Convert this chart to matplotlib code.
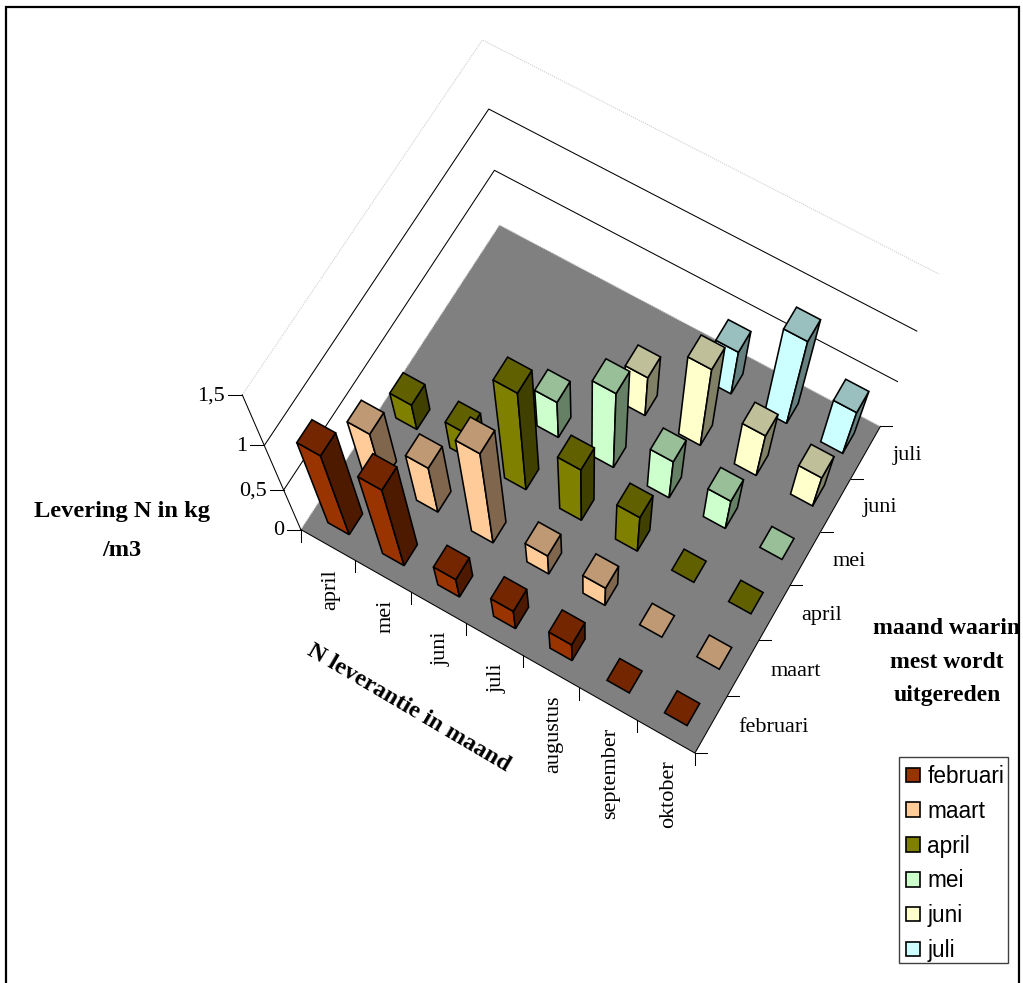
import numpy as np
import matplotlib
matplotlib.use("Agg")
import matplotlib.pyplot as plt
from matplotlib.patches import Polygon, Patch, Rectangle
from matplotlib.colors import to_rgb

# Nitrogen delivery (kg/m3) per delivery month and per month of manure spreading
delivery_months = ["april", "mei", "juni", "juli", "augustus", "september", "oktober"]
spread_months = ["februari", "maart", "april", "mei", "juni", "juli"]
z_ticks = [0, 0.5, 1, 1.5]
z_labels = ["0", "0,5", "1", "1,5"]

februari = [0.95, 0.95, 0.25, 0.26, 0.25, 0, 0]
maart = [0.56, 0.54, 1.07, 0.25, 0.25, 0, 0]
april = [0.28, 0.3, 1.08, 0.62, 0.44, 0, 0]
mei = [None, None, 0.4, 0.83, 0.44, 0.35, 0]
juni = [None, None, None, 0.42, 0.83, 0.47, 0.35]
juli = [None, None, None, None, 0.45, 0.87, 0.47]
series = [februari, maart, april, mei, juni, juli]

colors = ["#993300", "#FFCC99", "#808000", "#CCFFCC", "#FFFFCC", "#CCFFFF"]

# View calibration: chart-space corners of the box and where they fall on the canvas
view_world = np.array([
    [0, 0, 0], [7, 0, 0], [0, 6, 0], [7, 6, 0],
    [0, 0, .5], [0, 0, 1], [0, 0, 1.5],
    [0, 6, .5], [0, 6, 1], [0, 6, 1.5],
    [7, 6, .5], [7, 6, 1], [7, 6, 1.5]], float)
view_canvas = np.array([
    [300.7, 529.3], [695, 753], [500, 225], [880, 426.7],
    [283.3, 490.7], [264.3, 445], [242.7, 395],
    [494.3, 170], [489, 109.3], [481.7, 40],
    [897, 382], [918, 330], [938.3, 274.3]], float)


def fit_camera(world, canvas):
    rows = []
    for (X, Y, Z), (u, v) in zip(world, canvas):
        rows.append([X, Y, Z, 1, 0, 0, 0, 0, -u * X, -u * Y, -u * Z, -u])
        rows.append([0, 0, 0, 0, X, Y, Z, 1, -v * X, -v * Y, -v * Z, -v])
    return np.linalg.svd(np.array(rows))[2][-1].reshape(3, 4)


camera = fit_camera(view_world, view_canvas)


def project(x, y, z):
    h = camera @ np.array([x, y, z, 1.0])
    return h[0] / h[2], h[1] / h[2]


def shade(color, factor):
    return tuple(c * factor for c in to_rgb(color))


plt.rcParams["font.family"] = ["Liberation Serif", "DejaVu Serif"]
fig = plt.figure(figsize=(10.23, 9.83), dpi=100)
ax = fig.add_axes([0, 0, 1, 1])
ax.set_xlim(0, 1023)
ax.set_ylim(983, 0)
ax.axis("off")

nx, ny = len(delivery_months), len(spread_months)
LINE = 1.15
BAR_WIDTH = 0.39
TICK_FONT = 16

# Outer chart frame, which runs off the bottom of the canvas
ax.plot([6, 6, 1019, 1019], [990, 7, 7, 990], color="black", lw=1.6, solid_joinstyle="miter")

# Floor
floor = [project(0, 0, 0), project(nx, 0, 0), project(nx, ny, 0), project(0, ny, 0)]
ax.add_patch(Polygon(floor, closed=True, fc="#808080", ec="none", zorder=1))
ax.plot(*zip(project(0, 0, 0), project(0, ny, 0), project(nx, ny, 0)),
        color="#d0d0d0", lw=0.8, ls=(0, (1, 1)), zorder=1.1)

# Wall gridlines
for z in z_ticks[1:]:
    pts = [project(0, 0, z), project(0, ny, z), project(nx, ny, z)]
    if z == z_ticks[-1]:
        ax.plot(*zip(*pts), color="#cfcfcf", lw=0.8, ls=(0, (1, 1)), zorder=1)
    else:
        ax.plot(*zip(*pts), color="black", lw=0.75, zorder=1)

# Axis lines and tick marks
ax.plot(*zip(project(0, 0, 0), project(0, 0, z_ticks[-1])), color="black", lw=0.75, zorder=1.2)
ax.plot(*zip(project(0, 0, 0), project(nx, 0, 0), project(nx, ny, 0)), color="black", lw=0.75, zorder=1.2)
for z, label in zip(z_ticks, z_labels):
    u, v = project(0, 0, z)
    ax.plot([u - 14, u], [v, v], color="black", lw=0.75)
    ax.text(u - 17, v + 1, label, ha="right", va="center", fontsize=TICK_FONT)
for i in range(nx + 1):
    u, v = project(i, 0, 0)
    ax.plot([u, u], [v, v + 12], color="black", lw=0.75)
for j in range(ny + 1):
    u, v = project(nx, j, 0)
    ax.plot([u, u + 12], [v, v], color="black", lw=0.75)

for i, label in enumerate(delivery_months):
    u, v = project(i + 0.5, 0, 0)
    ax.text(u + 3, v + 24, label, rotation=90, ha="center", va="top", fontsize=TICK_FONT)
for j, label in enumerate(spread_months):
    u, v = project(nx, j + 0.5, 0)
    ax.text(u + 27, v + 3, label, ha="left", va="center", fontsize=TICK_FONT)

# Bars, painted from the far row to the near row
half = BAR_WIDTH / 2
for j in range(ny - 1, -1, -1):
    for i in range(nx):
        value = series[j][i]
        if value is None:
            continue
        cx, cy = i + 0.5, j + 0.5
        x0, x1, y0, y1 = cx - half, cx + half, cy - half, cy + half
        order = 10 + (ny - j) * 10 + i
        top = [project(x0, y0, value), project(x1, y0, value),
               project(x1, y1, value), project(x0, y1, value)]
        if value > 0:
            front = [project(x0, y0, 0), project(x1, y0, 0),
                     project(x1, y0, value), project(x0, y0, value)]
            side = [project(x1, y0, 0), project(x1, y1, 0),
                    project(x1, y1, value), project(x1, y0, value)]
            ax.add_patch(Polygon(front, closed=True, fc=colors[j], ec="black", lw=LINE, zorder=order))
            ax.add_patch(Polygon(side, closed=True, fc=shade(colors[j], 0.5), ec="black", lw=LINE, zorder=order))
        ax.add_patch(Polygon(top, closed=True, fc=shade(colors[j], 0.75), ec="black", lw=LINE, zorder=order))

# Axis titles
title_style = dict(ha="center", va="center", fontsize=17.6, fontweight="bold")
ax.text(122, 511, "Levering N in kg", **title_style)
ax.text(122, 551, "/m3", **title_style)
side_title = dict(title_style, fontsize=17)
ax.text(947, 628, "maand waarin", **side_title)
ax.text(947, 662, "mest wordt", **side_title)
ax.text(947, 696, "uitgereden", **side_title)
ax.text(409, 708, "N leverantie in maand", rotation=-30.5, rotation_mode="anchor", **title_style)

# Legend
ax.add_patch(Rectangle((899, 757), 109, 206, fc="white", ec="#404040", lw=1.0, zorder=199))
handles = [Patch(fc=c, ec="black", lw=1.2, label=m) for c, m in zip(colors, spread_months)]
legend = ax.legend(handles=handles, loc="upper left", bbox_to_anchor=(906, 765),
                   bbox_transform=ax.transData, frameon=False,
                   prop={"family": "Liberation Sans", "size": 16.3},
                   handlelength=0.62, handleheight=0.62, handletextpad=0.32,
                   labelspacing=0.52, borderpad=0, borderaxespad=0)
legend.set_zorder(200)

fig.savefig("out.png", dpi=100)
